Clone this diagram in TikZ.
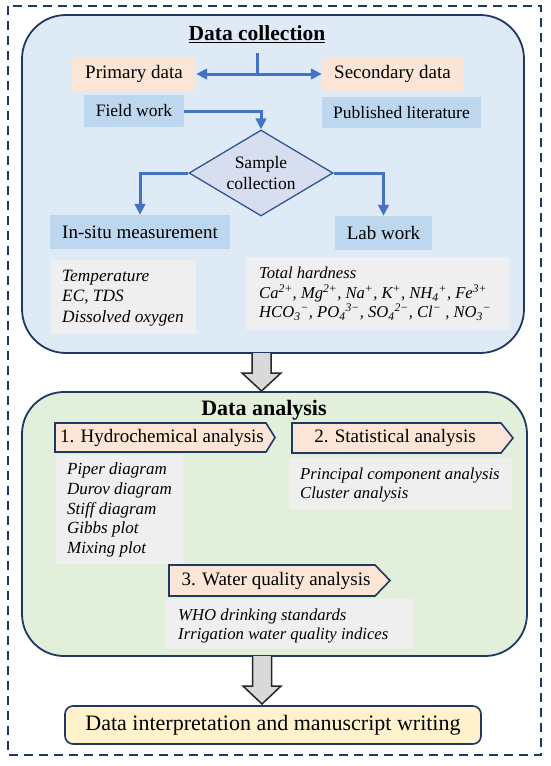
\documentclass[tikz,border=0pt]{standalone}
\usepackage{fontspec}
\setmainfont{Liberation Serif}
\usetikzlibrary{arrows.meta,shapes.geometric}
\definecolor{navy}{HTML}{1F3864}
\definecolor{bluebg}{HTML}{DEEBF7}
\definecolor{greenbg}{HTML}{E2EFDA}
\definecolor{peach}{HTML}{FBE5D6}
\definecolor{lightblue}{HTML}{BDD7EE}
\definecolor{listgray}{HTML}{EFEFEF}
\definecolor{flowblue}{HTML}{4472C4}
\definecolor{dmdfill}{HTML}{D6DEEF}
\definecolor{dmdline}{HTML}{2F5597}
\definecolor{hollowfill}{HTML}{D9D9D9}
\definecolor{hollowline}{HTML}{262626}
\definecolor{finalfill}{HTML}{FFF2CC}
\newcommand\myfs[2]{\fontsize{#1}{#2}\selectfont}
\newcommand\ionx[2]{\textsubscript{#1}\textsuperscript{#2}}
\tikzset{
  panel/.style={draw=navy, line width=1.8pt, rounded corners=44pt, inner sep=0pt},
  peachbox/.style={fill=peach, inner sep=0pt, font=\myfs{19}{22}},
  bluebox/.style={fill=lightblue, inner sep=0pt, font=\myfs{17.5}{20}},
  graybox/.style={fill=listgray, inner sep=0pt},
  listtext/.style={anchor=west, align=left, inner sep=0pt, font=\itshape\myfs{17}{19.7}},
  flow/.style={draw=flowblue, line width=3pt, -{Triangle[length=11pt,width=10.5pt]}},
  flowboth/.style={draw=flowblue, line width=3pt, {Triangle[length=11pt,width=10.5pt]}-{Triangle[length=11pt,width=10.5pt]}},
  chev/.style={fill=peach, draw=navy, line width=1.6pt, line join=miter},
  chevtext/.style={inner sep=0pt, font=\myfs{19}{22}},
  hollow/.style={fill=hollowfill, draw=hollowline, line width=1.5pt, line join=miter},
  title/.style={inner sep=0pt, anchor=base, font=\bfseries\myfs{22}{24}},
}
\begin{document}
\begin{tikzpicture}[x=1pt,y=-1pt]
\useasboundingbox (0,0) rectangle (550,766);
\fill[white] (0,0) rectangle (550,766);
% outer frame
\draw[navy, line width=2.3pt, dash pattern=on 9pt off 6pt] (8,6) rectangle (541,755);

% ===== Data collection panel =====
\node[panel, fill=bluebg, minimum width=502pt, minimum height=338pt] (collect) at (273,184) {};
\node[title, font=\bfseries\myfs{21.5}{24}] (ctitle) at (257,40.5) {\underline{Data collection}};

\node[peachbox, minimum width=124pt, minimum height=34pt] (primary) at (134,74) {Primary data};
\node[peachbox, minimum width=141pt, minimum height=34pt] (secondary) at (392.5,74) {Secondary data};
\node[bluebox, minimum width=100pt, minimum height=32pt] (field) at (134,111) {Field work};
\node[bluebox, minimum width=159pt, minimum height=31pt] (published) at (401.5,112.5) {Published literature};

\coordinate (teetop) at (257.5,53);
\draw[draw=flowblue, line width=3pt] (teetop) -- (teetop |- primary.east);
\draw[flowboth] (primary.east) -- (secondary.west);

\node[diamond, draw=dmdline, fill=dmdfill, line width=1.3pt, aspect=1.674,
      minimum width=144pt, minimum height=86pt, inner sep=0pt, align=center,
      font=\myfs{17.5}{20.5}] (diamond) at (261,173) {Sample\\collection};
\draw[flow] (field.east) -| (diamond.north);

\node[bluebox, font=\myfs{19}{22}, minimum width=180pt, minimum height=34pt] (insitu) at (140,232) {In-situ measurement};
\node[bluebox, font=\myfs{19}{22}, minimum width=97pt, minimum height=34pt] (lab) at (383.5,233) {Lab work};
\draw[flow] (diamond.west) -| (insitu.north);
\draw[flow] (diamond.east) -| (lab.north);

\node[graybox, minimum width=145pt, minimum height=74pt] (tempbox) at (123.5,297) {};
\node[listtext, font=\itshape\myfs{17.3}{20.5}] (templist) at (62,298) {Temperature\\EC, TDS\\Dissolved oxygen};

\node[graybox, minimum width=264pt, minimum height=73pt] (labbox) at (378,293.5) {};
\node[listtext, font=\itshape\myfs{16.6}{19.5}] (lablist) at (259,294) {Total hardness\\
Ca\textsuperscript{2+}, Mg\textsuperscript{2+}, Na\textsuperscript{+}, K\textsuperscript{+}, NH\ionx{4}{+}, Fe\textsuperscript{3+}\\
HCO\ionx{3}{−}, PO\ionx{4}{3−}, SO\ionx{4}{2−}, Cl\textsuperscript{−} , NO\ionx{3}{−}};

% ===== hollow arrow 1 =====
\filldraw[hollow] (252,353) -- (252,373) -- (242,373) -- (261.5,391) -- (281,373) -- (271,373) -- (271,353);

% ===== Data analysis panel =====
\node[panel, fill=greenbg, minimum width=505pt, minimum height=264pt, rounded corners=42pt] (analysis) at (274.5,524) {};
\node[title] (atitle) at (264,415) {Data analysis};

\filldraw[chev] (55,423) -- (266,423) -- (275,437.5) -- (266,452) -- (55,452) -- cycle;
\node[chevtext] (hydro) at (162,437.5) {1. Hydrochemical analysis};
\filldraw[chev] (292,423) -- (501,423) -- (513,438) -- (501,453) -- (292,453) -- cycle;
\node[chevtext] (stat) at (395,438) {2. Statistical analysis};

\node[graybox, minimum width=127pt, minimum height=109pt] (hydrobox) at (119.5,509.5) {};
\node[listtext] (hydrolist) at (67,510) {Piper diagram\\Durov diagram\\Stiff diagram\\Gibbs plot\\Mixing plot};

\node[graybox, minimum width=223pt, minimum height=51pt] (statbox) at (400.5,483.5) {};
\node[listtext, font=\itshape\myfs{16.7}{19.2}] (statlist) at (300,485) {Principal component analysis\\Cluster analysis};

\filldraw[chev] (169,565) -- (375,565) -- (390,580.5) -- (375,596) -- (169,596) -- cycle;
\node[chevtext] (wq) at (276,580.5) {3. Water quality analysis};

\node[graybox, minimum width=248pt, minimum height=50pt] (wqbox) at (290,624) {};
\node[listtext, font=\itshape\myfs{16.7}{19.2}] (wqlist) at (178,626) {WHO drinking standards\\Irrigation water quality indices};

% ===== hollow arrow 2 =====
\filldraw[hollow] (252.5,656) -- (252.5,686) -- (243,686) -- (262,704) -- (281,686) -- (271.5,686) -- (271.5,656);

% ===== final box =====
\node[draw=navy, line width=1.6pt, fill=finalfill, rounded corners=8pt, minimum width=416pt,
      minimum height=38pt, inner sep=0pt, font=\myfs{22}{24}] (final) at (273,725) {Data interpretation and manuscript writing};
\end{tikzpicture}
\end{document}
